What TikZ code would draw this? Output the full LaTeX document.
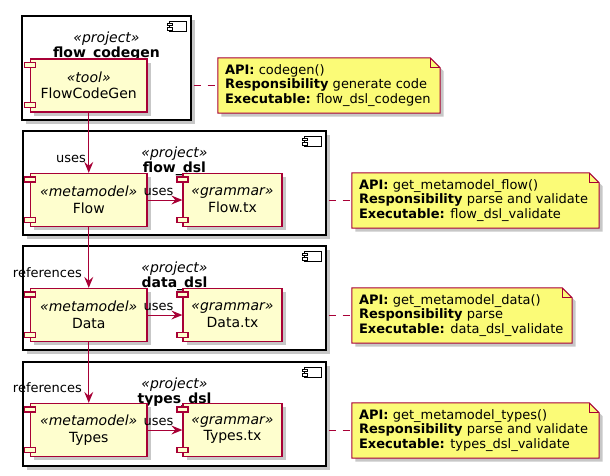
\documentclass[tikz,border=0pt]{standalone}
\usepackage{fontspec}
\setmainfont{DejaVu Sans}
\usetikzlibrary{shadows,arrows.meta}
\definecolor{umlred}{HTML}{A80036}
\definecolor{compfill}{HTML}{FEFECE}
\definecolor{notefill}{HTML}{FBFB77}
\newcommand{\compTabs}[1]{%
  \draw[tabst] ([shift={(-5.5pt,-4pt)}]#1.north west) rectangle ++(11pt,-5pt);
  \draw[tabst] ([shift={(-5.5pt,5pt)}]#1.south west) rectangle ++(11pt,5pt);}
\newcommand{\frameIcon}[1]{%
  \draw[iconst] ([shift={(-22pt,-6pt)}]#1.north east) rectangle ([shift={(-5pt,-16pt)}]#1.north east);
  \draw[iconst] ([shift={(-24pt,-8pt)}]#1.north east) rectangle ++(5pt,-2.5pt);
  \draw[iconst] ([shift={(-24pt,-12.5pt)}]#1.north east) rectangle ++(5pt,-2.5pt);}
\newcommand{\dogEar}[1]{%
  \filldraw[notest] (#1.north west) -- ([xshift=-10pt]#1.north east) -- ([yshift=-10pt]#1.north east) -- (#1.south east) -- (#1.south west) -- cycle;
  \draw[notefold] ([xshift=-10pt]#1.north east) |- ([yshift=-10pt]#1.north east);}
\begin{document}
\begin{tikzpicture}[x=1pt,y=-1pt,
  shad/.style={drop shadow={shadow xshift=3.5pt,shadow yshift=-3.5pt,fill=black,opacity=0.22}},
  frame/.style={draw=black,line width=1.4pt,fill=white,shad,minimum height=104pt,inner sep=0pt},
  ftitle/.style={align=center,inner sep=0pt,font=\fontsize{14}{15.5}\selectfont},
  comp/.style={draw=umlred,line width=1.3pt,fill=compfill,shad,minimum height=53pt,inner sep=0pt,align=center,font=\fontsize{14}{16.5}\selectfont},
  leftcomp/.style={comp,minimum width=116.5pt},
  rightcomp/.style={comp,minimum width=99pt},
  tabst/.style={draw=umlred,line width=1.3pt,fill=compfill},
  iconst/.style={draw=black,line width=1pt,fill=white},
  arr/.style={draw=umlred,line width=1pt,-{Stealth[length=11pt,width=9pt,inset=4pt]}},
  lbl/.style={inner sep=0pt,font=\fontsize{13}{15}\selectfont},
  notebg/.style={minimum height=55pt,inner sep=0pt},
  notest/.style={draw=umlred,line width=1pt,fill=notefill,shad},
  notefold/.style={draw=umlred,line width=1pt},
  notetext/.style={align=left,inner sep=0pt,font=\fontsize{13}{14.5}\selectfont},
  dashcon/.style={draw=umlred,line width=1pt,dash pattern=on 7pt off 7pt,dash phase=12pt}]
\useasboundingbox[fill=white] (0,0) rectangle (610,475);

% frames
\node[frame,minimum width=169pt] (f1) at (106.5,68) {};
\node[frame,minimum width=303pt] (f2) at (174.5,183) {};
\node[frame,minimum width=303pt] (f3) at (174.5,298) {};
\node[frame,minimum width=303pt] (f4) at (174.5,414) {};
\frameIcon{f1}\frameIcon{f2}\frameIcon{f3}\frameIcon{f4}
\node[ftitle] (f1t) at ([yshift=-31pt]f1.north) {\textit{«project»}\\\textbf{flow\_codegen}};
\node[ftitle] (f2t) at ([yshift=-31pt]f2.north) {\textit{«project»}\\\textbf{flow\_dsl}};
\node[ftitle] (f3t) at ([yshift=-31pt]f3.north) {\textit{«project»}\\\textbf{data\_dsl}};
\node[ftitle] (f4t) at ([yshift=-31pt]f4.north) {\textit{«project»}\\\textbf{types\_dsl}};

% components
\node[leftcomp] (fcg) at (88.75,85.5) {\textit{«tool»}\\FlowCodeGen};
\node[leftcomp] (flow) at (88.75,200) {\textit{«metamodel»}\\Flow};
\node[rightcomp] (flowtx) at (232.5,200) {\textit{«grammar»}\\Flow.tx};
\node[leftcomp] (data) at (88.75,315) {\textit{«metamodel»}\\Data};
\node[rightcomp] (datatx) at (232.5,315) {\textit{«grammar»}\\Data.tx};
\node[leftcomp] (types) at (88.75,430) {\textit{«metamodel»}\\Types};
\node[rightcomp] (typestx) at (232.5,430) {\textit{«grammar»}\\Types.tx};
\compTabs{fcg}\compTabs{flow}\compTabs{flowtx}\compTabs{data}\compTabs{datatx}\compTabs{types}\compTabs{typestx}

% arrows
\draw[arr] (fcg) -- (flow);
\draw[arr] (flow) -- (data);
\draw[arr] (data) -- (types);
\draw[arr] (flow) -- (flowtx);
\draw[arr] (data) -- (datatx);
\draw[arr] (types) -- (typestx);
\node[lbl,anchor=east] (l1) at (86,159) {uses};
\node[lbl,anchor=east] (l2) at (82,273) {references};
\node[lbl,anchor=east] (l3) at (82,388) {references};
\node[lbl] (h1) at (158.5,192) {uses};
\node[lbl] (h2) at (158.5,307) {uses};
\node[lbl] (h3) at (158.5,422) {uses};

% notes
\node[notebg,minimum width=222pt] (n1) at (329,85.5) {};
\node[notebg,minimum width=247pt] (n2) at (475.5,200.5) {};
\node[notebg,minimum width=220pt] (n3) at (462,315.5) {};
\node[notebg,minimum width=247pt] (n4) at (475.5,430.5) {};
\dogEar{n1}\dogEar{n2}\dogEar{n3}\dogEar{n4}
\node[notetext,anchor=west] (n1t) at ([xshift=7pt]n1.west) {\textbf{API:} codegen()\\\textbf{Responsibility} generate code\\\textbf{Executable:} flow\_dsl\_codegen};
\node[notetext,anchor=west] (n2t) at ([xshift=7pt]n2.west) {\textbf{API:} get\_metamodel\_flow()\\\textbf{Responsibility} parse and validate\\\textbf{Executable:} flow\_dsl\_validate};
\node[notetext,anchor=west] (n3t) at ([xshift=7pt]n3.west) {\textbf{API:} get\_metamodel\_data()\\\textbf{Responsibility} parse\\\textbf{Executable:} data\_dsl\_validate};
\node[notetext,anchor=west] (n4t) at ([xshift=7pt]n4.west) {\textbf{API:} get\_metamodel\_types()\\\textbf{Responsibility} parse and validate\\\textbf{Executable:} types\_dsl\_validate};
\draw[dashcon] (f1.east |- n1.west) -- (n1.west);
\draw[dashcon] (f2.east |- n2.west) -- (n2.west);
\draw[dashcon] (f3.east |- n3.west) -- (n3.west);
\draw[dashcon] (f4.east |- n4.west) -- (n4.west);
\end{tikzpicture}
\end{document}
